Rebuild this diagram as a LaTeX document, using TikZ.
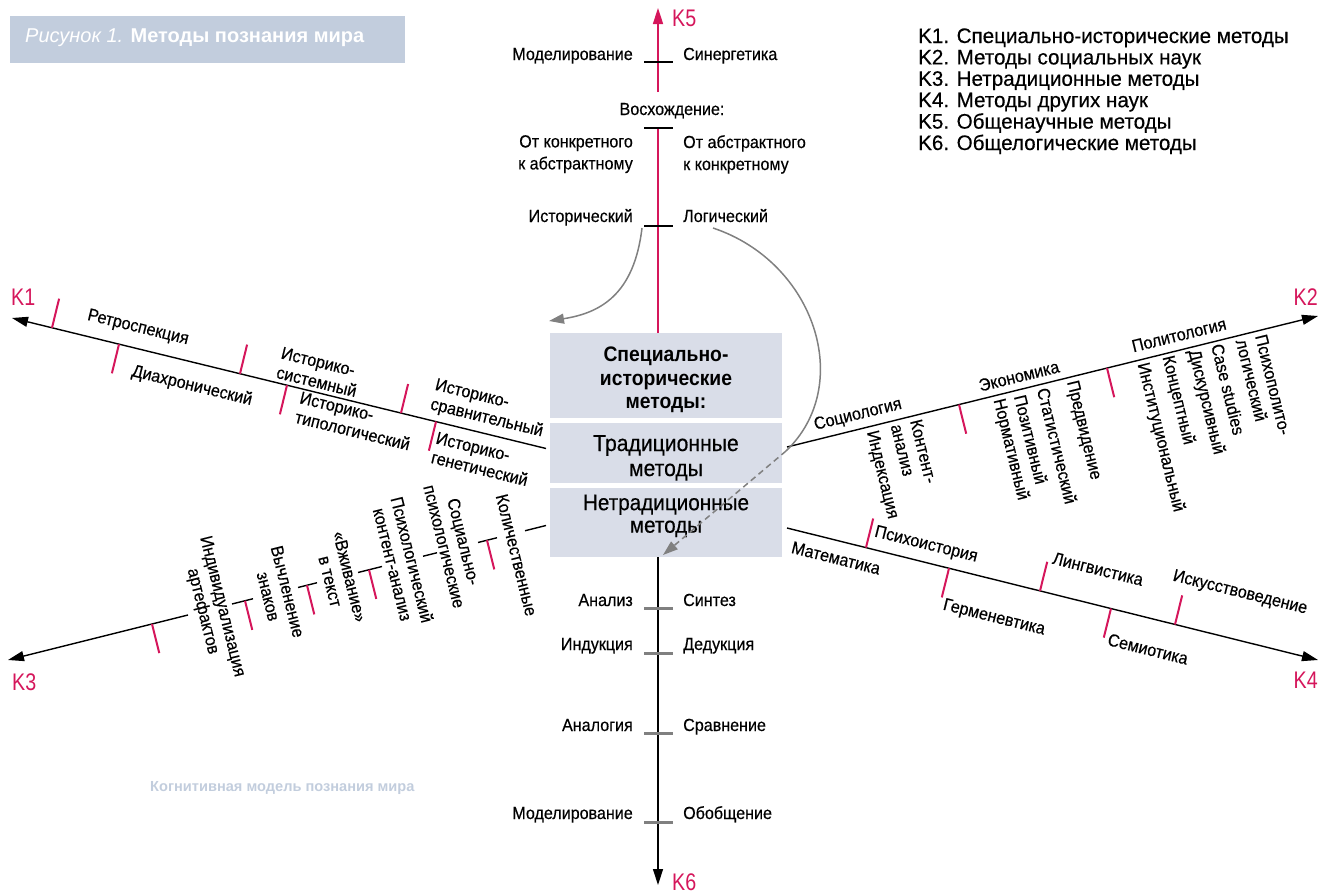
\documentclass[tikz,border=0pt]{standalone}
\usepackage{fontspec}
\setmainfont{Liberation Sans}
\newfontfamily\cnd[FakeStretch=0.92,FakeBold=0.4]{Liberation Sans}
\newfontfamily\cndb[FakeStretch=0.92]{Liberation Sans}
\newfontfamily\cndr[FakeStretch=0.92,FakeBold=0.4]{Liberation Sans}
\newfontfamily\cndk[FakeStretch=0.82]{Liberation Sans}
\newfontfamily\legf[FakeStretch=0.98,FakeBold=0.4]{Liberation Sans}
\usetikzlibrary{arrows.meta}
\definecolor{crim}{RGB}{213,22,91}
\definecolor{boxc}{RGB}{217,221,232}
\definecolor{ttl}{RGB}{194,205,221}
\definecolor{grayarr}{RGB}{128,128,128}
\begin{document}
\begin{tikzpicture}[x=1pt,y=-1pt,
  axis/.style={line width=1.4pt,black},
  tipb/.style={-{Triangle[length=16pt,width=10pt]}},
  tk/.style={line width=2pt,crim},
  lbl/.style={font=\cnd\fontsize{17.5}{20}\selectfont,inner sep=0pt},
  ra/.style={lbl,rotate=-13.73,align=left},
  rb/.style={lbl,rotate=13.86},
  rbv/.style={lbl,rotate=-76.14,align=left,anchor=west},
  rcv/.style={lbl,rotate=-75.96,align=center},
  rd/.style={lbl,rotate=-13.96},
  kl/.style={font=\cndk\fontsize{24}{24}\selectfont,text=crim,inner sep=0pt},
  vl/.style={lbl,anchor=base east},
  vr/.style={lbl,anchor=base west},
  blk/.style={line width=2pt,black},
  gtk/.style={line width=3pt,grayarr},
  box/.style={fill=boxc,draw=none,inner sep=0pt,anchor=north west,minimum width=232pt},
  gcurve/.style={line width=1.5pt,grayarr},
  gtip/.style={-{Triangle[length=15pt,width=10pt]}},
  leg/.style={font=\legf\fontsize{21}{21}\selectfont,inner sep=0pt,anchor=base west},
]
\useasboundingbox (0,0) rectangle (1326,894);

% title
\node[fill=ttl,inner sep=0pt,minimum width=395pt,minimum height=47pt,anchor=north west] (title) at (10,16) {};
\node[anchor=base west,inner sep=0pt,text=white,font=\fontsize{20}{20}\selectfont] (titletext) at (25,42) {{\itshape Рисунок 1.} \textbf{Методы познания мира}};

% legend
\node[leg] (lg1) at (918,43) {K1. Специально-исторические методы};
\node[leg] (lg2) at (918,64.4) {K2. Методы социальных наук};
\node[leg] (lg3) at (918,85.8) {K3. Нетрадиционные методы};
\node[leg] (lg4) at (918,107.2) {K4. Методы других наук};
\node[leg] (lg5) at (918,128.6) {K5. Общенаучные методы};
\node[leg] (lg6) at (918,150) {K6. Общелогические методы};

\node[anchor=base west,inner sep=0pt,text=ttl,font=\bfseries\fontsize{14.6}{14.6}\selectfont] (cog) at (150,791) {Когнитивная модель познания мира};

% central boxes
\node[box,minimum height=85pt] (box1) at (550,333) {};
\node[box,minimum height=60pt] (box2) at (550,423) {};
\node[box,minimum height=69pt] (box3) at (550,488) {};
\node[font=\cndb\bfseries\fontsize{21}{23.5}\selectfont,align=center,inner sep=0pt,anchor=north] (t1) at (666,347) {Специально-\\исторические\\методы:};
\node[font=\cndr\fontsize{23}{25}\selectfont,align=center,inner sep=0pt,anchor=north] (t2) at (666,435) {Традиционные\\методы};
\node[font=\cndr\fontsize{22.5}{22.5}\selectfont,align=center,inner sep=0pt,anchor=north] (t3) at (666,494.5) {Нетрадиционные\\методы};

% axis end points
\coordinate (c1) at (546,448.5); \coordinate (k1) at (12,318);
\coordinate (c2) at (787,447); \coordinate (k2) at (1318,316);
\coordinate (c3) at (546,525.5); \coordinate (k3) at (8,660);
\coordinate (c4) at (787,528); \coordinate (k4) at (1318,660);
\coordinate (c5) at (658,333); \coordinate (c5a) at (658,128);
\coordinate (c5b) at (658,92); \coordinate (k5) at (658,8);
\coordinate (c6) at (658,557); \coordinate (k6) at (658,885);

\draw[axis,tipb] (c1) -- (k1);
\draw[axis,tipb] (c2) -- (k2);
\draw[axis,tipb] (c4) -- (k4);
\draw[axis,tipb] (c6) -- (k6);
\draw[line width=1.6pt,crim] (c5) -- (c5a);
\draw[line width=1.6pt,crim,tipb] (c5b) -- (k5);

% K3 axis, broken where labels cross
\draw[axis,tipb] (188,615) -- (k3);
\draw[axis] (232,604) -- (253,598.75);
\draw[axis] (298,587.5) -- (317,582.75);
\draw[axis] (358,572.5) -- (382,566.5);
\draw[axis] (423,556.25) -- (437,552.75);
\draw[axis] (478,542.5) -- (497,537.75);
\draw[axis] (525,530.75) -- (c3);

% ticks K1
\draw[tk] (52,327.8) -- (59.1,298.7);
\draw[tk] (119,344.2) -- (111.9,373.3);
\draw[tk] (240,373.7) -- (247.1,344.6);
\draw[tk] (287,385.2) -- (279.9,414.3);
\draw[tk] (401,413.1) -- (408.1,384);
\draw[tk] (436,421.6) -- (428.9,450.7);
% ticks K2
\draw[tk] (959,404.6) -- (966.2,433.7);
\draw[tk] (1107,368.1) -- (1114.2,397.2);
% ticks K3
\draw[tk] (152,624) -- (159.3,653.1);
\draw[tk] (245,600.75) -- (252.3,629.9);
\draw[tk] (307,585.25) -- (314.3,614.4);
\draw[tk] (369,569.75) -- (376.3,598.9);
\draw[tk] (487,540.25) -- (494.3,569.4);
% ticks K4
\draw[tk] (866,547.6) -- (873.2,518.5);
\draw[tk] (949,568.3) -- (941.8,597.4);
\draw[tk] (1040,590.9) -- (1047.2,561.8);
\draw[tk] (1111,608.5) -- (1103.8,637.6);
\draw[tk] (1175,624.5) -- (1182.2,595.4);
% ticks K5
\draw[blk] (644,62) -- (673,62);
\draw[blk] (644,128) -- (673,128);
\draw[blk] (644,226) -- (673,226);
% ticks K6
\draw[gtk] (644,608) -- (673,608);
\draw[gtk] (644,653) -- (673,653);
\draw[gtk] (644,733) -- (673,733);
\draw[gtk] (644,822) -- (673,822);

% K labels
\node[kl,anchor=base west] (K1) at (11,305) {K1};
\node[kl,anchor=base east] (K2) at (1318,305) {K2};
\node[kl,anchor=base west] (K3) at (12,690) {K3};
\node[kl,anchor=base east] (K4) at (1318,688) {K4};
\node[kl,anchor=base west] (K5) at (672,27) {K5};
\node[kl,anchor=base west] (K6) at (672,890) {K6};

% K5 labels
\node[vl] (m5a) at (633,60) {Моделирование};
\node[vr] (m5b) at (683,60) {Синергетика};
\node[lbl,anchor=base] (m5c) at (672,115) {Восхождение:};
\node[lbl,font=\cnd\fontsize{17.5}{22}\selectfont,align=right,anchor=north east] (m5d) at (633,135) {От конкретного\\к абстрактному};
\node[lbl,font=\cnd\fontsize{17.5}{22}\selectfont,align=left,anchor=north west] (m5e) at (683,135) {От абстрактного\\к конкретному};
\node[vl] (m5f) at (633,222) {Исторический};
\node[vr] (m5g) at (683,222) {Логический};

% K6 labels
\node[vl] (m6a) at (633,606) {Анализ};
\node[vr] (m6b) at (683,606) {Синтез};
\node[vl] (m6c) at (633,650) {Индукция};
\node[vr] (m6d) at (683,650) {Дедукция};
\node[vl] (m6e) at (633,731) {Аналогия};
\node[vr] (m6f) at (683,731) {Сравнение};
\node[vl] (m6g) at (633,819) {Моделирование};
\node[vr] (m6h) at (683,819) {Обобщение};

% K1 labels
\node[ra] (a1) at (138,328) {Ретроспекция};
\node[ra] (a2) at (192,386) {Диахронический};
\node[ra] (a3) at (319,372) {Историко-\\системный};
\node[ra] (a4) at (355,421) {Историко-\\типологический};
\node[ra] (a5) at (489,409) {Историко-\\сравнительный};
\node[ra] (a6) at (482,459) {Историко-\\генетический};

% K2 labels
\node[rb] (b1) at (858,415) {Социология};
\node[rb] (b2) at (1019,376) {Экономика};
\node[rb] (b3) at (1179,335) {Политология};
\node[rbv] (b4) at (871,431) {Индексация};
\node[rbv] (b5) at (906,422) {Контент-\\анализ};
\node[rbv] (b6) at (998,399) {Нормативный};
\node[rbv] (b7) at (1020,395) {Позитивный};
\node[rbv] (b8) at (1043,388) {Статистический};
\node[rbv] (b9) at (1071,381) {Предвидение};
\node[rbv] (b10) at (1142,363) {Институциональный};
\node[rbv] (b11) at (1167,356) {Концептный};
\node[rbv] (b12) at (1193,350) {Дискурсивный};
\node[rbv] (b13) at (1217,344) {Case studies};
\node[rbv] (b14) at (1251,337) {Психополито-\\логический};

% K3 labels
\node[rcv] (d1) at (516.5,555) {Количественные};
\node[rcv] (d2) at (454,544) {Социально-\\психологические};
\node[rcv] (d3) at (402.6,562) {Психологический\\контент-анализ};
\node[rcv] (d4) at (340,579) {«Вживание»\\в текст};
\node[rcv] (d5) at (278,594) {Вычленение\\знаков};
\node[rcv] (d6) at (212,609) {Индивидуализация\\артефактов};

% K4 labels
\node[rd] (e1) at (836,558) {Математика};
\node[rd] (e2) at (926,545) {Психоистория};
\node[rd] (e3) at (994,618) {Герменевтика};
\node[rd] (e4) at (1098,569) {Лингвистика};
\node[rd] (e5) at (1148,649) {Семиотика};
\node[rd] (e6) at (1240,593) {Искусствоведение};

% grey arrows
\coordinate (h1) at (642,228); \coordinate (h2) at (549,321);
\draw[gcurve,gtip] (h1) .. controls (634,295) and (600,313) .. (h2);
\coordinate (g1) at (713,228); \coordinate (g2) at (786,451); \coordinate (g3) at (663,555);
\draw[gcurve] (g1) .. controls (815,262) and (855,385) .. (g2);
\draw[gcurve,gtip,dash pattern=on 6pt off 4pt] (g2) -- (g3);
\end{tikzpicture}
\end{document}
